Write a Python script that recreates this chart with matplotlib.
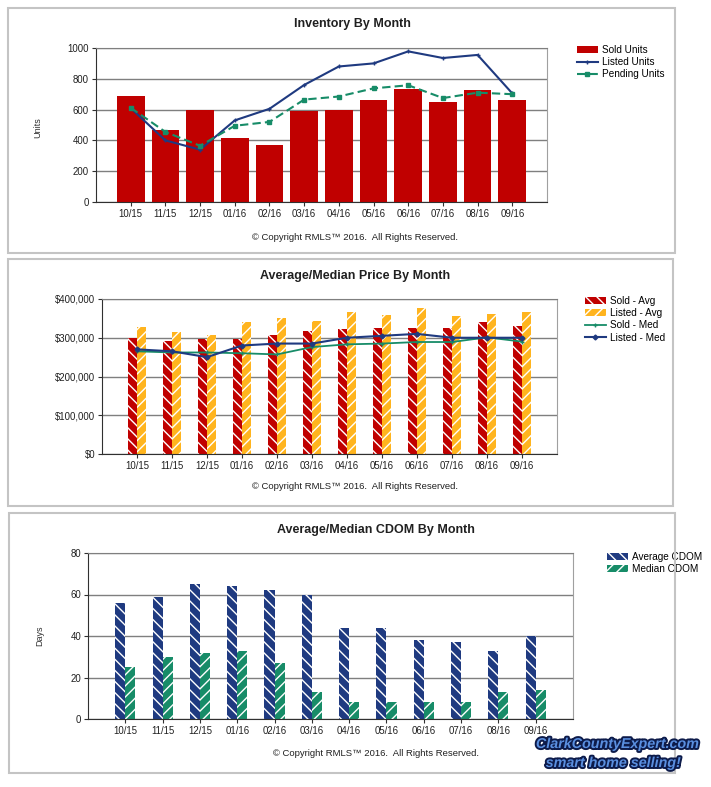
import numpy as np
import matplotlib
matplotlib.use("Agg")
import matplotlib.pyplot as plt
import matplotlib.patheffects as pe
from matplotlib.patches import Rectangle
from matplotlib.ticker import FuncFormatter

# data
months = ["10/15", "11/15", "12/15", "01/16", "02/16", "03/16",
          "04/16", "05/16", "06/16", "07/16", "08/16", "09/16"]

sold_units = [690, 465, 597, 413, 370, 590, 598, 662, 735, 648, 725, 662]
listed_units = [610, 400, 340, 530, 605, 760, 880, 900, 978, 935, 955, 705]
pending_units = [612, 455, 365, 495, 520, 665, 685, 738, 758, 675, 710, 700]

sold_avg = [300000, 292000, 297000, 298000, 307000, 317000,
            322000, 325000, 326000, 325000, 340000, 330000]
listed_avg = [328000, 315000, 307000, 340000, 350000, 344000,
              367000, 358000, 377000, 356000, 362000, 367000]
sold_med = [265000, 262000, 262000, 260000, 257000, 276000,
            283000, 285000, 289000, 289000, 301000, 290000]
listed_med = [270000, 265000, 250000, 280000, 285000, 285000,
              300000, 305000, 310000, 300000, 300000, 300000]

avg_cdom = [56, 59, 65, 64, 62, 60, 44, 44, 38, 37, 33, 40]
med_cdom = [25, 30, 32, 33, 27, 13, 8, 8, 8, 8, 13, 14]

RED = "#c00000"
NAVY = "#1f3a80"
GREEN = "#178c68"
ORANGE = "#ffb41e"

W, H = 711, 787
plt.rcParams['font.family'] = ['Liberation Sans', 'DejaVu Sans']
plt.rcParams['hatch.linewidth'] = 1.0
plt.rcParams['hatch.color'] = 'white'

fig = plt.figure(figsize=(W / 100, H / 100), dpi=100)


def fx(x):
    return x / W


def fy(y):
    return 1 - y / H


def box(x0, y0, x1, y1):
    return [fx(x0), fy(y1), (x1 - x0) / W, (y1 - y0) / H]


def style(ax, ymax, step):
    ax.set_xlim(-1, 12)
    ax.set_ylim(0, ymax)
    ax.set_yticks(np.arange(0, ymax + 1, step))
    ax.set_xticks(range(12))
    ax.set_xticklabels(months)
    ax.grid(axis='y', color='#7f7f7f', lw=1)
    ax.set_axisbelow(True)
    ax.spines['left'].set_color('#303030')
    ax.spines['bottom'].set_color('#303030')
    ax.spines['right'].set_color('#a0a0a0')
    ax.spines['top'].set_color('#7f7f7f')
    ax.tick_params(labelsize=6.9, length=3, color='#303030', pad=2,
                   labelcolor='#202020')


def frame(x0, y0, x1, y1):
    fig.add_artist(Rectangle((fx(x0), fy(y1)), (x1 - x0) / W, (y1 - y0) / H,
                             transform=fig.transFigure, fill=False,
                             edgecolor='#c4c4c4', lw=1.5))


def legend(ax, handles, x, y):
    ax.legend(handles=handles, loc='upper left',
              bbox_to_anchor=(fx(x), fy(y)),
              bbox_transform=fig.transFigure, frameon=False, fontsize=7.2,
              handlelength=2.05, handletextpad=0.4, labelspacing=0.22,
              borderpad=0, borderaxespad=0)


x = np.arange(12)

# panel 1 - inventory
frame(8, 8, 675, 253)
ax1 = fig.add_axes(box(96, 48, 547, 202))
b1 = ax1.bar(x, sold_units, width=0.8, color=RED, label="Sold Units")
l1, = ax1.plot(x, listed_units, color=NAVY, lw=1.5, marker='+', ms=3,
               label="Listed Units")
l2, = ax1.plot(x, pending_units, color=GREEN, lw=1.5, ls=(0, (4, 2)),
               marker='s', ms=2.5, label="Pending Units")
style(ax1, 1000, 200)
ax1.set_ylabel("Units", fontsize=6.5, color='#303030')
ax1.yaxis.set_label_coords(fx(42), fy(128), transform=fig.transFigure)
legend(ax1, [b1, l1, l2], 577, 45)
fig.text(fx(352), fy(24), "Inventory By Month", ha='center', va='center',
         fontsize=9, fontweight='bold', color='#202020')
fig.text(fx(355), fy(237), "© Copyright RMLS™ 2016.  All Rights Reserved.",
         ha='center', va='center', fontsize=6.8, color='#202020')

# panel 2 - prices
frame(8, 259, 673, 506)
ax2 = fig.add_axes(box(102, 299, 557, 454))
b2 = ax2.bar(x - 0.125, sold_avg, width=0.25, color=RED, edgecolor='white',
             lw=0, hatch='\\\\\\', label="Sold - Avg")
b3 = ax2.bar(x + 0.125, listed_avg, width=0.25, color=ORANGE,
             edgecolor='white', lw=0, hatch='///', label="Listed - Avg")
l3, = ax2.plot(x, sold_med, color=GREEN, lw=1.3, marker='+', ms=2.5,
               label="Sold - Med")
l4, = ax2.plot(x, listed_med, color=NAVY, lw=1.5, marker='D', ms=2.5,
               label="Listed - Med")
style(ax2, 400000, 100000)
ax2.yaxis.set_major_formatter(FuncFormatter(lambda v, p: "${:,.0f}".format(v)))
legend(ax2, [b2, b3, l3, l4], 585, 296)
fig.text(fx(355), fy(276), "Average/Median Price By Month", ha='center',
         va='center', fontsize=9, fontweight='bold', color='#202020')
fig.text(fx(355), fy(487), "© Copyright RMLS™ 2016.  All Rights Reserved.",
         ha='center', va='center', fontsize=6.8, color='#202020')

# panel 3 - days on market
frame(9, 513, 675, 773)
ax3 = fig.add_axes(box(88, 553, 573, 719))
b4 = ax3.bar(x - 0.135, avg_cdom, width=0.27, color=NAVY, edgecolor='white',
             lw=0, hatch='\\\\\\', label="Average CDOM")
b5 = ax3.bar(x + 0.135, med_cdom, width=0.27, color=GREEN, edgecolor='white',
             lw=0, hatch='///', label="Median CDOM")
style(ax3, 80, 20)
ax3.set_ylabel("Days", fontsize=6.5, color='#303030')
ax3.yaxis.set_label_coords(fx(44), fy(636), transform=fig.transFigure)
legend(ax3, [b4, b5], 607, 552)
fig.text(fx(376), fy(530), "Average/Median CDOM By Month", ha='center',
         va='center', fontsize=9, fontweight='bold', color='#202020')
fig.text(fx(376), fy(754), "© Copyright RMLS™ 2016.  All Rights Reserved.",
         ha='center', va='center', fontsize=6.8, color='#202020')

# logo text
logo_fx = [pe.withStroke(linewidth=2.8, foreground='#0d1b4a')]
fig.text(fx(617), fy(744), "ClarkCountyExpert.com", ha='center', va='center',
         fontsize=10.3, fontweight='bold', style='italic', color='#5a8fe0',
         path_effects=logo_fx)
fig.text(fx(613), fy(763), "smart home selling!", ha='center', va='center',
         fontsize=10.3, fontweight='bold', style='italic', color='#5a8fe0',
         path_effects=logo_fx)

fig.savefig("out.png", dpi=100)
